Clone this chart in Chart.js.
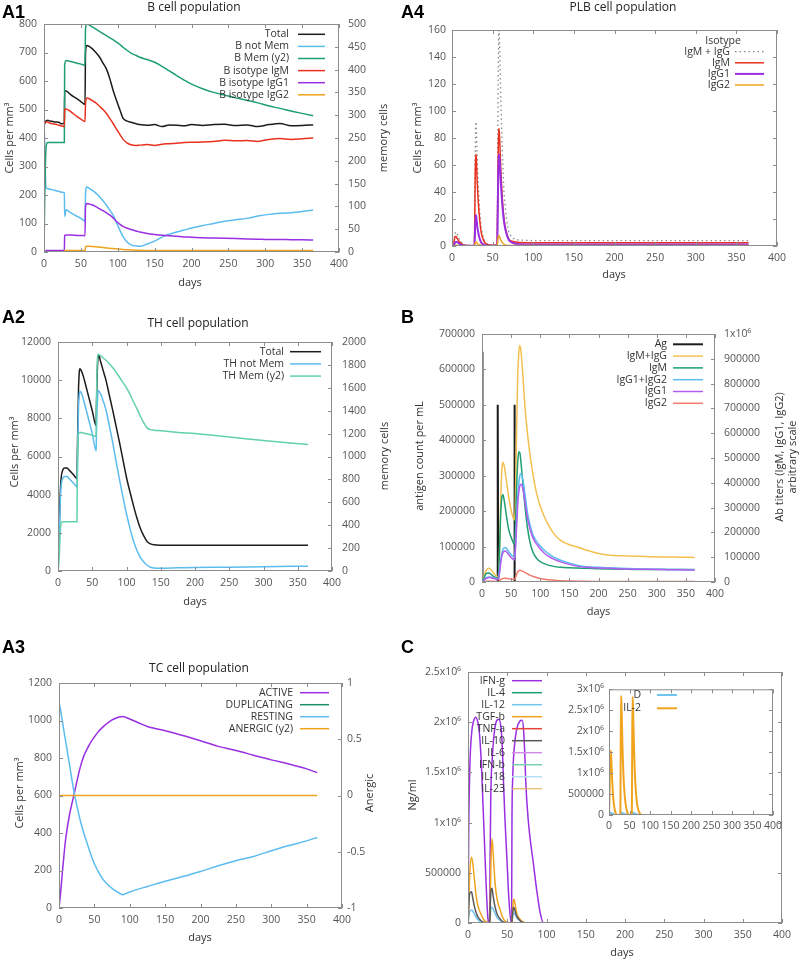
<!DOCTYPE html>
<html>
<head>
<meta charset="utf-8">
<title>Immune simulation panels</title>
<script src="https://cdn.jsdelivr.net/npm/chart.js@4.4.1/dist/chart.umd.min.js"></script>
<style>
  html, body { margin: 0; padding: 0; background: #fff; }
  #page { position: relative; width: 799px; height: 960px; overflow: hidden; background: #fff; }
  #page canvas { position: absolute; }
</style>
</head>
<body>
<div id="page"></div>
<script>
// ---------- A1: B cell population ----------
const a1Days = [0,1,2,3,5,8,12,16,20,24,27.6,28,30,35,40,45,50,55.6,56.3,58,62,66,71,75,80,85,89,94,98,103,107,112,118,125,130,140,150,160,170,180,190,200,215,230,245,260,275,290,305,320,335,350,365];
const bTotal  = [443,452,458,460,462,460,458,456,455,450,452,565,565,555,545,537,528,518,700,725,720,712,698,685,663,640,610,565,534,498,470,460,455,450,447,445,447,440,446,445,443,447,444,447,448,444,446,440,447,451,443,444,446];
const bNotMem = [445,380,260,225,222,220,218,215,213,210,208,125,148,140,132,125,118,108,200,228,222,215,205,195,180,163,148,128,105,76,55,37,25,21,20,28,38,52,62,70,77,84,93,100,108,113,118,126,132,136,138,142,147];
const bMem    = [0,120,200,232,240,240,240,240,240,240,240,410,420,418,416,414,412,410,490,500,497,493,488,484,479,474,470,465,461,455,449,443,436,431,427,422,416,407,397,387,377,368,358,350,344,338,333,327,320,315,309,304,299];
const bIgM    = [445,452,455,456,456,452,450,448,445,442,440,500,502,495,485,475,466,458,520,540,537,530,522,512,500,485,470,450,432,412,396,384,376,374,375,377,374,378,380,382,384,385,386,388,392,390,391,388,395,398,395,397,400];
const bIgG1   = [0,2,4,5,5,5,5,5,5,5,5,58,60,60,59,58,58,57,160,170,168,165,158,152,145,137,130,119,108,97,90,84,79,74,70,65,61,59,57,55,53,52,50,49,48,47,46,45,44,44,43,43,42];
const bIgG2   = [0,1,1,1,1,1,1,1,1,1,1,5,5,5,5,5,5,5,18,20,20,19,18,17,16,14,13,12,11,10,9,8,7,6,6,5,5,5,5,5,5,5,5,5,5,5,5,5,5,5,5,5,5];

// ---------- A4: PLB cell population ----------
const a4Days  = [0,2,3,4,5,6,8,10,13,16,20,25,27.6,28,28.5,29,29.5,30,31,32,34,36,39,42,46,50,55.6,56,56.5,57,57.5,58,59,60,62,64,67,70,74,80,100,150,200,250,300,365];
const plbSum  = [0,0.7,6.7,10,10.5,9.5,6.5,3.9,1.8,0.8,0.4,0.3,0.3,26,66,87,92,88,65,48,26,13,5,2,1,0.6,0.6,34,90,137,158,160,140,110,68,39,20,10,6,4.5,4,4,4,4,4,4];
const plbIgM  = [0,0.5,5,7,7,6,4,2.5,1.2,0.6,0.3,0.2,0.2,20,50,64,68,64,48,36,20,10,4,1.5,0.8,0.5,0.5,20,50,75,85,87,74,58,35,20,10,5,3.5,2.8,2.5,2.5,2.5,2.5,2.5,2.5];
const plbIgG1 = [0,0.2,1.5,2.8,3,3,2.2,1.2,0.5,0.2,0.1,0.1,0.1,5,14,20,23,21,15,11,5.5,2.5,1,0.4,0.2,0.1,0.1,12,35,55,65,68,60,48,30,18,9,4.5,2.5,1.5,1.2,1.2,1.2,1.2,1.2,1.2];
const plbIgG2 = [0,0,0.2,0.4,0.5,0.5,0.3,0.2,0.1,0,0,0,0,0.8,2,2.7,3,2.7,2,1.4,0.7,0.3,0.1,0,0,0,0,2,5,7,7.6,7.5,6,4.5,2.5,1.3,0.6,0.4,0.3,0.3,0.3,0.3,0.3,0.3,0.3,0.3];

// ---------- A2: TH cell population ----------
const a2Days   = [0,1,2,3,4,5,7,10,13,16,20,24,27.7,28,29,30,31,32,34,37,40,45,50,55.7,56,57,58,59,62,66,70,75,80,85,90,95,100,105,110,115,120,125,130,135,140,150,175,200,250,300,365];
const thTotal  = [1350,1500,2500,3800,4600,5000,5300,5400,5400,5300,5150,4980,4820,5500,7800,9600,10400,10600,10500,10200,9800,9100,8400,7600,8400,10000,11000,11350,11000,10500,10000,9200,8400,7550,6700,5800,4900,4150,3450,2800,2250,1850,1550,1420,1370,1350,1345,1345,1350,1350,1355];
const thNotMem = [1300,1350,2100,3300,4200,4600,4850,4950,4950,4850,4700,4550,4400,5000,7000,8600,9200,9400,9350,9000,8600,7900,7200,6300,7000,8500,9200,9450,9300,8900,8450,7600,6700,5700,4750,3850,3000,2250,1600,1100,730,480,300,200,160,150,165,180,200,225,255];
const thMem    = [0,50,150,300,400,425,430,430,430,430,430,430,430,700,1100,1200,1210,1210,1210,1205,1200,1195,1185,1175,1400,1750,1880,1890,1880,1860,1840,1810,1775,1735,1690,1645,1600,1545,1480,1420,1355,1295,1250,1235,1230,1225,1210,1200,1170,1140,1105];

// ---------- B: antigen and antibodies ----------
const agDays = [0,0.4,1.2,26.6,27,27.8,55.2,55.6,56.4,365];
const agVals = [650000,650000,0,0,500000,0,0,500000,0,0];
const abDays  = [0,2,5,8,12,16,20,24,27,28,30,32,34,36,38,40,43,46,50,54.5,55.6,57,59,61,63,65,67,70,74,78,82,86,90,95,100,107,115,125,135,150,165,180,200,220,250,280,310,340,365];
const abSum   = [0,10e3,35e3,50e3,55e3,48e3,35e3,25e3,19e3,22e3,110e3,320e3,450e3,483e3,470e3,440e3,390e3,340e3,290e3,252e3,250e3,300e3,560e3,800e3,920e3,954e3,930e3,840e3,700e3,600e3,520e3,455e3,400e3,345e3,305e3,263e3,225e3,190e3,168e3,150e3,140e3,128e3,115e3,108e3,105e3,103e3,101e3,100e3,99e3];
const abIgM   = [0,8e3,25e3,35e3,36e3,30e3,22e3,17e3,15e3,18e3,120e3,270e3,340e3,352e3,330e3,300e3,250e3,210e3,180e3,155e3,153e3,200e3,350e3,470e3,525e3,520e3,480e3,400e3,300e3,220e3,165e3,130e3,108e3,92e3,82e3,74e3,67e3,62e3,59e3,57e3,56e3,55e3,53e3,52e3,51e3,50e3,50e3,50e3,50e3];
const abIgG   = [0,3e3,12e3,18e3,20e3,19e3,16e3,13e3,12e3,13e3,40e3,85e3,115e3,132e3,138e3,139e3,132e3,122e3,110e3,101e3,100e3,130e3,230e3,330e3,395e3,430e3,438e3,415e3,350e3,280e3,235e3,200e3,178e3,160e3,145e3,128e3,112e3,98e3,88e3,76e3,67e3,62e3,59e3,57e3,54e3,52e3,51e3,50e3,49e3];
const abIgG1  = [0,2e3,10e3,15e3,18e3,17e3,14e3,12e3,11e3,11e3,35e3,75e3,103e3,118e3,124e3,125e3,119e3,110e3,99e3,90e3,89e3,115e3,205e3,300e3,360e3,388e3,394e3,378e3,320e3,258e3,218e3,187e3,166e3,149e3,134e3,116e3,102e3,90e3,81e3,71e3,63e3,59e3,56e3,55e3,52e3,51e3,50e3,49e3,48e3];
const abIgG2  = [0,1e3,2e3,3e3,3e3,3e3,3e3,2e3,2e3,2e3,5e3,10e3,12e3,14e3,15e3,15e3,14e3,13e3,12e3,11e3,11e3,15e3,28e3,40e3,45e3,47e3,46e3,43e3,38e3,33e3,28e3,24e3,21e3,17e3,14e3,11e3,9e3,7e3,5e3,4e3,3e3,3e3,2e3,2e3,2e3,2e3,2e3,2e3,2e3];

// ---------- A3: TC cell population ----------
const tcDays   = [0,2,5,8,10,15,20,25,30,35,40,45,50,55,60,65,70,75,80,85,90,95,100,110,125,150,175,200,225,250,275,300,325,350,365];
const tcActive = [0,70,200,320,385,500,585,670,750,810,850,885,912,938,958,975,990,1003,1012,1019,1022,1016,1008,992,968,945,920,892,862,840,815,790,768,742,722];
const tcResting= [1100,1060,990,920,876,760,645,550,468,400,343,285,236,198,165,140,121,105,91,80,71,78,85,98,115,143,168,195,225,252,275,305,333,358,376];
const flatDays = [0,365];
const flatZero = [0,0];

// ---------- C: cytokines ----------
const ifnDays = [0,0.5,1,2,3,5,7,10,13,15,17.5,19,21,23,25,26,27.5,28,29,31,34,39,42,44,45,47,49.7,52,55,55.5,56,57,59,62,66,69,71,72.5,73.6,77,83.5,88,92,96,365];
const ifnG    = [0,0.5e6,1.0e6,1.45e6,1.7e6,1.92e6,2.01e6,2.05e6,1.98e6,1.85e6,1.5e6,1.2e6,0.8e6,0.4e6,0.08e6,0,0,0.5e6,1.25e6,1.65e6,1.93e6,2.03e6,1.95e6,1.7e6,1.45e6,1.05e6,0.62e6,0.25e6,0,0,1.0e6,1.45e6,1.75e6,1.93e6,2.01e6,2.02e6,1.9e6,1.65e6,1.4e6,1.0e6,0.58e6,0.3e6,0.1e6,0,0];
const cytDays = [0,0.5,2,4.5,6,8,10.5,13,17,21,25,27.7,28.2,29.2,30.5,32,34.5,37,41,44,47,52,55.7,56.3,57.5,58.5,60,62,65,68.5,72,76,365];
const tgfB    = [0,50e3,450e3,654e3,600e3,450e3,262e3,160e3,80e3,25e3,5e3,0,150e3,600e3,840e3,700e3,395e3,240e3,129e3,60e3,20e3,3e3,0,60e3,200e3,236e3,190e3,97e3,50e3,20e3,6e3,1e3,0];
const il10    = [0,80e3,290e3,312e3,250e3,170e3,100e3,55e3,20e3,5e3,1e3,0,120e3,320e3,346e3,270e3,160e3,90e3,40e3,15e3,5e3,0,0,50e3,140e3,156e3,120e3,70e3,35e3,12e3,3e3,0,0];
const il12    = [0,20e3,110e3,130e3,120e3,90e3,55e3,30e3,10e3,3e3,0,0,40e3,140e3,156e3,140e3,95e3,55e3,25e3,10e3,3e3,0,0,30e3,90e3,100e3,85e3,55e3,30e3,10e3,3e3,0,0];

// inset: IL-2 and D
const il2Days = [0,1,2,3,4,5,7,9,12,16,20,27.7,28.5,29.5,30.5,33,36,40,45,50,55.7,56.5,57.5,58.5,61,64,68,73,80,365];
const il2     = [0,0.3e6,0.9e6,1.35e6,1.53e6,1.45e6,1.0e6,0.6e6,0.25e6,0.05e6,0,0,1.5e6,2.84e6,2.6e6,1.6e6,0.8e6,0.3e6,0.05e6,0,0,1.5e6,2.82e6,2.6e6,1.6e6,0.8e6,0.3e6,0.08e6,0,0];
const dCells  = [0,20e3,45e3,55e3,55e3,50e3,40e3,30e3,15e3,5e3,0,0,30e3,50e3,55e3,45e3,30e3,15e3,5e3,0,0,30e3,50e3,55e3,45e3,30e3,15e3,5e3,0,0];

// ---------- styling ----------
const FONT = '"Open Sans", "DejaVu Sans", sans-serif';
const LETTER = 'bold 18px "Liberation Sans", Arial, sans-serif';
const TITLE = '12px ' + FONT;
const TICK = '#555';
const INK = '#333';
const FRAME = '#8c8c8c';
const BLACK = '#1c1c1c', SKY = '#5cbcef', GREEN = '#1d9e73', RED = '#e8321e', PURPLE = '#9a2fe2', ORANGE = '#f0a31c';
const UP = -Math.PI / 2;

function pts(days, vals) {
  return days.map((d, i) => ({x: d, y: vals[i]}));
}

function line(label, days, vals, color, extra) {
  return Object.assign({
    label: label, data: pts(days, vals), borderColor: color, borderWidth: 1.5,
    pointRadius: 0, fill: false, cubicInterpolationMode: 'monotone'
  }, extra || {});
}

const e6 = v => v === 0 ? '0' : v === 500000 ? '500000' : (v / 1e6) + 'x10\u2076';

// frame with inward ticks, gnuplot-like key and free text
function deco(p) {
  const L = p.box[0], T = p.box[1];
  return {
    id: 'deco',
    afterDatasetsDraw(chart) {
      const {ctx, chartArea: a, scales} = chart;
      ctx.save();
      ctx.strokeStyle = FRAME;
      ctx.lineWidth = 1;
      ctx.strokeRect(a.left + 0.5, a.top + 0.5, a.right - a.left - 1, a.bottom - a.top - 1);
      ctx.beginPath();
      for (const t of scales.x.ticks) {
        const px = Math.round(scales.x.getPixelForValue(t.value)) + 0.5;
        ctx.moveTo(px, a.bottom); ctx.lineTo(px, a.bottom - 4);
        ctx.moveTo(px, a.top); ctx.lineTo(px, a.top + 4);
      }
      const side = (sc, x0, dir) => {
        for (const t of sc.ticks) {
          const py = Math.round(sc.getPixelForValue(t.value)) + 0.5;
          ctx.moveTo(x0, py); ctx.lineTo(x0 + dir * 4, py);
        }
      };
      side(scales.y, a.left, 1);
      side(scales.y2 || scales.y, a.right, -1);
      ctx.stroke();
      ctx.restore();
    },
    afterDraw(chart) {
      const ctx = chart.ctx;
      const k = p.key;
      ctx.save();
      if (k) {
        ctx.font = '10.5px ' + FONT;
        ctx.textBaseline = 'middle';
        ctx.fillStyle = INK;
        if (k.head) {
          ctx.textAlign = 'center';
          ctx.fillText(k.head, k.hx - L, k.hy - T);
        }
        ctx.textAlign = 'right';
        chart.data.datasets.forEach((s, i) => {
          const y = k.y + i * k.dy - T;
          ctx.fillStyle = INK;
          ctx.fillText(s.label, k.x - L, y);
          ctx.strokeStyle = s.borderColor;
          ctx.lineWidth = s.borderWidth;
          ctx.setLineDash(s.borderDash || []);
          ctx.beginPath();
          ctx.moveTo(k.x1 - L, y);
          ctx.lineTo(k.x2 - L, y);
          ctx.stroke();
        });
        ctx.setLineDash([]);
      }
      for (const w of p.words || []) {
        ctx.save();
        ctx.font = w.font || ('11px ' + FONT);
        ctx.fillStyle = w.color || INK;
        ctx.textAlign = w.align || 'center';
        ctx.textBaseline = w.base || 'middle';
        ctx.translate(w.x - L, w.y - T);
        if (w.rot) ctx.rotate(w.rot);
        ctx.fillText(w.t, 0, 0);
        ctx.restore();
      }
      ctx.restore();
    }
  };
}

// one canvas per panel; box = canvas on the page, plot = wanted plot frame on the page
function panel(p) {
  const [L, T, W, H] = p.box;
  const [pl, pt, pr, pb] = p.plot;
  const cv = document.createElement('canvas');
  cv.width = W; cv.height = H;
  cv.style.left = L + 'px'; cv.style.top = T + 'px';
  cv.style.width = W + 'px'; cv.style.height = H + 'px';
  document.getElementById('page').appendChild(cv);

  const axis = (o, pos, fit) => ({
    type: 'linear', position: pos, min: o.min, max: o.max,
    ticks: {stepSize: o.step, autoSkip: false, maxRotation: 0, padding: o.pad,
            color: TICK, font: {family: FONT, size: 10.5}, callback: o.fmt || (v => String(v))},
    grid: {display: false, drawTicks: false},
    border: {display: false},
    afterFit: fit
  });
  const scales = {
    x: axis({min: 0, max: 400, step: 50, pad: p.xPad}, 'bottom', s => { s.height = T + H - pb; }),
    y: axis(p.y, 'left', s => { s.width = pl - L; })
  };
  if (p.y2) scales.y2 = axis(p.y2, 'right', s => { s.width = L + W - pr; });

  // later series on top, as in the original plots
  p.sets.forEach((s, i) => { s.order = -i; });

  return new Chart(cv, {
    type: 'line',
    data: {datasets: p.sets},
    options: {
      responsive: false, animation: false, events: [], parsing: false,
      layout: {autoPadding: false, padding: {left: 0, bottom: 0, top: pt - T, right: p.y2 ? 0 : L + W - pr}},
      plugins: {legend: {display: false}, tooltip: {enabled: false}, title: {display: false}},
      scales: scales
    },
    plugins: [deco(p)]
  });
}

const Y2 = {yAxisID: 'y2'};

// A1
panel({
  box: [0, 0, 400, 300], plot: [44, 24, 339, 252], xPad: 6,
  y: {min: 0, max: 800, step: 100, pad: 7},
  y2: {min: 0, max: 500, step: 50, pad: 9},
  sets: [
    line('Total', a1Days, bTotal, BLACK),
    line('B not Mem', a1Days, bNotMem, SKY),
    line('B Mem (y2)', a1Days, bMem, GREEN, Y2),
    line('B isotype IgM', a1Days, bIgM, RED),
    line('B isotype IgG1', a1Days, bIgG1, PURPLE),
    line('B isotype IgG2', a1Days, bIgG2, ORANGE)
  ],
  key: {x: 289, y: 34.3, dy: 12.1, x1: 298, x2: 325},
  words: [
    {t: 'A1', x: 2, y: 17.5, font: LETTER, align: 'left', base: 'alphabetic', color: '#000'},
    {t: 'B cell population', x: 194, y: 7.5, font: TITLE, color: '#222'},
    {t: 'Cells per mm\u00b3', x: 9.5, y: 138, rot: UP},
    {t: 'memory cells', x: 384, y: 138, rot: UP},
    {t: 'days', x: 190, y: 283}
  ]
});

// A4
panel({
  box: [400, 0, 399, 300], plot: [452, 30, 777, 246], xPad: 6,
  y: {min: 0, max: 160, step: 20, pad: 6},
  sets: [
    line('IgM + IgG', a4Days, plbSum, '#8a8a8a', {borderDash: [1.5, 3], borderWidth: 1.3, cubicInterpolationMode: 'default'}),
    line('IgM', a4Days, plbIgM, RED),
    line('IgG1', a4Days, plbIgG1, PURPLE, {borderWidth: 2}),
    line('IgG2', a4Days, plbIgG2, ORANGE)
  ],
  key: {head: 'Isotype', hx: 723, hy: 40.7, x: 730, y: 51.7, dy: 11.1, x1: 735, x2: 764},
  words: [
    {t: 'A4', x: 401, y: 17.5, font: LETTER, align: 'left', base: 'alphabetic', color: '#000'},
    {t: 'PLB cell population', x: 623, y: 8, font: TITLE, color: '#222'},
    {t: 'Cells per mm\u00b3', x: 418, y: 138, rot: UP},
    {t: 'days', x: 614, y: 275}
  ]
});

// A2
panel({
  box: [0, 300, 400, 330], plot: [58, 342, 332, 571], xPad: 6,
  y: {min: 0, max: 12000, step: 2000, pad: 7},
  y2: {min: 0, max: 2000, step: 200, pad: 10},
  sets: [
    line('Total', a2Days, thTotal, BLACK),
    line('TH not Mem', a2Days, thNotMem, SKY),
    line('TH Mem (y2)', a2Days, thMem, '#62cfae', Y2)
  ],
  key: {x: 284, y: 351.7, dy: 12.2, x1: 290, x2: 321},
  words: [
    {t: 'A2', x: 2, y: 323, font: LETTER, align: 'left', base: 'alphabetic', color: '#000'},
    {t: 'TH cell population', x: 198, y: 324, font: TITLE, color: '#222'},
    {t: 'Cells per mm\u00b3', x: 15, y: 452, rot: UP},
    {t: 'memory cells', x: 385, y: 456, rot: UP},
    {t: 'days', x: 195, y: 601.5}
  ]
});

// B
panel({
  box: [400, 300, 399, 330], plot: [482, 334, 715, 582], xPad: 6,
  y: {min: 0, max: 700000, step: 100000, pad: 7},
  y2: {min: 0, max: 1000000, step: 100000, pad: 9, fmt: v => v === 1e6 ? '1x10\u2076' : String(v)},
  sets: [
    line('Ag', agDays, agVals, BLACK, {borderWidth: 2, cubicInterpolationMode: 'default'}),
    line('IgM+IgG', abDays, abSum, '#f3c04f', Y2),
    line('IgM', abDays, abIgM, GREEN, Y2),
    line('IgG1+IgG2', abDays, abIgG, SKY, Y2),
    line('IgG1', abDays, abIgG1, '#b15cf0', Y2),
    line('IgG2', abDays, abIgG2, '#f27a6b', Y2)
  ],
  key: {x: 667, y: 344.3, dy: 11.8, x1: 673, x2: 703},
  words: [
    {t: 'B', x: 401, y: 322.5, font: LETTER, align: 'left', base: 'alphabetic', color: '#000'},
    {t: 'antigen count per mL', x: 420, y: 456, rot: UP},
    {t: 'Ab titers (IgM, IgG1, IgG2)', x: 780, y: 457, rot: UP},
    {t: 'arbitrary scale', x: 793, y: 457, rot: UP},
    {t: 'days', x: 598.5, y: 611.5}
  ]
});

// A3
panel({
  box: [0, 630, 400, 330], plot: [59, 683, 342, 908], xPad: 6,
  y: {min: 0, max: 1200, step: 200, pad: 7},
  y2: {min: -1, max: 1, step: 0.5, pad: 5},
  sets: [
    line('ACTIVE', tcDays, tcActive, PURPLE),
    line('DUPLICATING', flatDays, flatZero, '#1d8f66'),
    line('RESTING', tcDays, tcResting, SKY),
    line('ANERGIC (y2)', flatDays, flatZero, ORANGE, Y2)
  ],
  key: {x: 293, y: 692.7, dy: 12, x1: 300, x2: 329},
  words: [
    {t: 'A3', x: 2, y: 652.5, font: LETTER, align: 'left', base: 'alphabetic', color: '#000'},
    {t: 'TC cell population', x: 199, y: 668.5, font: TITLE, color: '#222'},
    {t: 'Cells per mm\u00b3', x: 19.5, y: 793, rot: UP},
    {t: 'Anergic', x: 369.5, y: 793, rot: UP},
    {t: 'days', x: 200, y: 938}
  ]
});

// C
panel({
  box: [400, 630, 399, 330], plot: [468, 672, 782, 923], xPad: 6,
  y: {min: 0, max: 2500000, step: 500000, pad: 7, fmt: e6},
  sets: [
    line('IFN-g', ifnDays, ifnG, PURPLE),
    line('IL-4', flatDays, flatZero, GREEN),
    line('IL-12', cytDays, il12, '#6fc4f0'),
    line('TGF-b', cytDays, tgfB, ORANGE),
    line('TNF-a', flatDays, flatZero, '#e8423a'),
    line('IL-10', cytDays, il10, '#5a5a5a'),
    line('IL-6', flatDays, flatZero, '#d08ee6'),
    line('IFN-b', flatDays, flatZero, '#79cfae'),
    line('IL-18', flatDays, flatZero, '#b5def3'),
    line('IL-23', flatDays, flatZero, 'rgba(222,178,80,0.75)')
  ],
  key: {x: 505, y: 680.7, dy: 12, x1: 512, x2: 542},
  words: [
    {t: 'C', x: 401, y: 652.5, font: LETTER, align: 'left', base: 'alphabetic', color: '#000'},
    {t: 'Ng/ml', x: 413, y: 795, rot: UP},
    {t: 'days', x: 622, y: 952.5}
  ]
});

// C inset
panel({
  box: [545, 678, 245, 162], plot: [609, 686, 773, 815], xPad: 5,
  y: {min: 0, max: 3000000, step: 500000, pad: 5, fmt: e6},
  sets: [
    line('D', il2Days, dCells, '#6fc4f0', {borderWidth: 2}),
    line('IL-2', il2Days, il2, ORANGE, {borderWidth: 2})
  ],
  key: {x: 641, y: 695, dy: 13.3, x1: 657, x2: 677}
});
</script>
</body>
</html>
